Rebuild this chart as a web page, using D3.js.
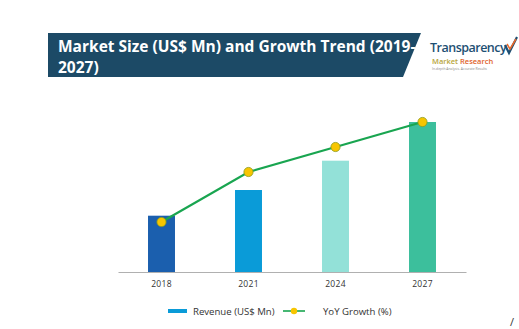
<!DOCTYPE html>
<meta charset="utf-8">
<script src="https://d3js.org/d3.v7.min.js"></script>
<style>
  body { margin: 0; background: #fff; }
</style>
<div id="chart"></div>
<script>
// years shown on the x axis
const years = ["2018", "2021", "2024", "2027"];
// revenue in US$ Mn (bars)
const revenue = [563, 820, 1113, 1500];
// YoY growth in % (line)
const growth = [5.0, 10.0, 12.5, 15.0];
const barColors = ["#1b5fae", "#0a9bd8", "#93e1d8", "#3cbf9c"];

const W = 519, H = 329;
const svg = d3.select("#chart").append("svg")
  .attr("width", W).attr("height", H)
  .style("font-family", "'Open Sans', 'DejaVu Sans', sans-serif");

// title banner with slanted right edge
svg.append("path")
  .attr("d", "M48,33 L421,33 L403,77 L48,77 Z")
  .attr("fill", "#1c4a66");
const title = svg.append("text")
  .attr("fill", "#fff")
  .style("font-size", "15.5px")
  .style("font-weight", 700);
title.append("tspan").attr("x", 58).attr("y", 52).text("Market Size (US$ Mn) and Growth Trend (2019-");
title.append("tspan").attr("x", 58).attr("y", 73).text("2027)");

// logo
const logo = svg.append("g");
logo.append("text").attr("x", 430).attr("y", 52)
  .attr("fill", "#1d4f73").style("font-size", "12.5px").style("font-weight", 600)
  .style("letter-spacing", "-0.5px")
  .text("Transparency");
logo.append("path")
  .attr("d", "M505,45 L509,53 L517,37")
  .attr("fill", "none").attr("stroke", "#1d4f73").attr("stroke-width", 2.2);
logo.append("path")
  .attr("d", "M507,44 L510,49 L516,39")
  .attr("fill", "none").attr("stroke", "#e8692c").attr("stroke-width", 1.5);
const mr = logo.append("text").attr("x", 432).attr("y", 64)
  .style("font-size", "7.5px").style("font-weight", 600);
mr.append("tspan").attr("fill", "#b8a53c").text("Market ");
mr.append("tspan").attr("fill", "#e0612a").text("Research");
logo.append("text").attr("x", 432).attr("y", 69.5)
  .attr("fill", "#888").style("font-size", "3.4px")
  .text("In-depth Analysis. Accurate Results");

// scales
const x = d3.scaleBand().domain(years).range([118, 466])
  .paddingInner(0.69).paddingOuter(0.345);
const y = d3.scaleLinear().domain([0, 1500]).range([272, 122]);
const yg = d3.scaleLinear().domain([0, 15]).range([272, 122]);

// bars
svg.selectAll("rect.bar")
  .data(years)
  .join("rect")
  .attr("class", "bar")
  .attr("x", d => x(d))
  .attr("y", (d, i) => y(revenue[i]))
  .attr("width", x.bandwidth())
  .attr("height", (d, i) => y(0) - y(revenue[i]))
  .attr("fill", (d, i) => barColors[i]);

// x axis
const ax = svg.append("g")
  .attr("transform", "translate(0,272)")
  .call(d3.axisBottom(x).tickSize(0).tickPadding(9));
ax.select(".domain").attr("stroke", "#b0b0b0").attr("stroke-width", 1.2);
ax.selectAll("text")
  .attr("fill", "#333")
  .style("font-size", "8.5px")
  .style("font-family", "'Open Sans', sans-serif")
  .style("letter-spacing", "0.3px");

// growth line
const pts = years.map((d, i) => [x(d) + x.bandwidth() / 2, yg(growth[i])]);
svg.append("path")
  .attr("d", d3.line()(pts))
  .attr("fill", "none")
  .attr("stroke", "#19a550")
  .attr("stroke-width", 2.2);
svg.selectAll("circle.pt")
  .data(pts)
  .join("circle")
  .attr("class", "pt")
  .attr("cx", d => d[0]).attr("cy", d => d[1])
  .attr("r", 4.6)
  .attr("fill", "#f7c500")
  .attr("stroke", "#8a9a1e")
  .attr("stroke-width", 0.8);

// legend
const lg = svg.append("g").style("font-size", "9.6px").attr("fill", "#333");
lg.append("rect").attr("x", 168).attr("y", 309).attr("width", 19).attr("height", 4).attr("fill", "#0a9bd8");
lg.append("text").attr("x", 193).attr("y", 314.5).text("Revenue (US$ Mn)");
lg.append("line").attr("x1", 283).attr("x2", 305).attr("y1", 311).attr("y2", 311)
  .attr("stroke", "#19a550").attr("stroke-width", 1.6);
lg.append("circle").attr("cx", 294).attr("cy", 311).attr("r", 3.2).attr("fill", "#f7c500");
lg.append("text").attr("x", 323).attr("y", 314.5).text("YoY Growth (%)");

// small glyph at the bottom right
svg.append("text").attr("x", 510).attr("y", 326)
  .attr("fill", "#333").style("font-size", "11px").text("/");
</script>
